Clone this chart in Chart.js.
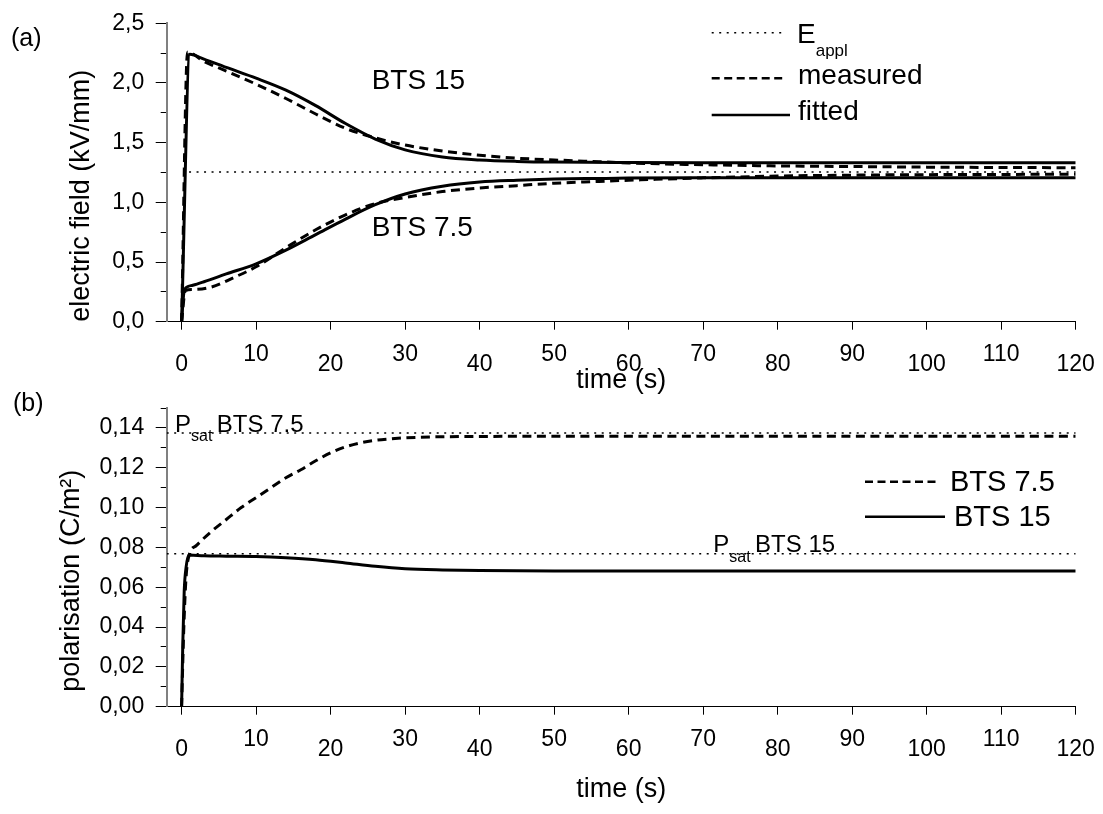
<!DOCTYPE html>
<html>
<head>
<meta charset="utf-8">
<script src="https://cdn.jsdelivr.net/npm/chart.js@4.4.1/dist/chart.umd.min.js"></script>
<style>
  html, body { margin: 0; padding: 0; background: #fff; }
  #fig { position: relative; width: 1103px; height: 814px; overflow: hidden;
         font-family: "Liberation Sans", Arial, sans-serif; color: #000; }
  #fig canvas { position: absolute; left: 0; }
  #c-top { top: 0; }
  #c-bot { top: 390px; }
  #keys { position: absolute; left: 0; top: 0; }
  .lbl { position: absolute; line-height: 1; white-space: nowrap; }
</style>
</head>
<body>
<div id="fig">
  <canvas id="c-top" width="1103" height="400"></canvas>
  <canvas id="c-bot" width="1103" height="424"></canvas>
  <!-- legend key samples -->
  <svg id="keys" width="1103" height="814">
    <g stroke="#000" fill="none">
      <line x1="711.7" y1="32.7" x2="786.7" y2="32.7" stroke-width="1.5" stroke-dasharray="2 5.5"/>
      <line x1="711.7" y1="78.3" x2="786.7" y2="78.3" stroke-width="2.5" stroke-dasharray="8 4.5"/>
      <line x1="711.7" y1="115"  x2="790"   y2="115"  stroke-width="2.5"/>
      <line x1="865"   y1="481.7" x2="940"  y2="481.7" stroke-width="2.5" stroke-dasharray="8 4.5"/>
      <line x1="865"   y1="516.7" x2="945"  y2="516.7" stroke-width="2.5"/>
    </g>
  </svg>
</div>

<script>
/* ── data ─────────────────────────────────────────────────── */
const FONT = '"Liberation Sans", Arial, sans-serif';

// axis ticks
const timeTicks  = [0, 10, 20, 30, 40, 50, 60, 70, 80, 90, 100, 110, 120];
const fieldTicks = [0, 0.5, 1.0, 1.5, 2.0, 2.5];
const fieldMinor = [0.25, 0.75, 1.25, 1.75, 2.25];
const polTicks   = [0, 0.02, 0.04, 0.06, 0.08, 0.10, 0.12, 0.14];
const polMinor   = [0.01, 0.03, 0.05, 0.07, 0.09, 0.11, 0.13, 0.15];

// (a) electric field (kV/mm) vs time (s)
const tAppl  = [1, 120];
const eAppl  = [1.255, 1.255];

const tMeas15 = [0, 0.8, 3, 6, 10, 14, 18, 22, 26, 30, 35, 40, 45, 50, 56, 60, 70, 80, 90, 100, 110, 120];
const eMeas15 = [0, 2.26, 2.18, 2.10, 1.99, 1.87, 1.74, 1.62, 1.54, 1.48, 1.43, 1.395, 1.37, 1.355, 1.34, 1.33, 1.315, 1.305, 1.30, 1.295, 1.292, 1.29];

const tFit15 = [0, 1.1, 3, 6, 10, 14, 18, 22, 26, 30, 35, 40, 45, 50, 60, 70, 80, 90, 100, 110, 120];
const eFit15 = [0, 2.24, 2.20, 2.13, 2.04, 1.94, 1.81, 1.66, 1.53, 1.44, 1.38, 1.355, 1.343, 1.337, 1.333, 1.332, 1.332, 1.332, 1.332, 1.332, 1.332];

const tMeas75 = [0, 0.5, 1.5, 4, 7, 10, 14, 18, 22, 26, 30, 35, 40, 45, 50, 56, 60, 70, 80, 90, 100, 110, 120];
const eMeas75 = [0, 0.26, 0.27, 0.29, 0.37, 0.46, 0.62, 0.77, 0.895, 0.99, 1.04, 1.09, 1.12, 1.14, 1.16, 1.175, 1.185, 1.205, 1.22, 1.228, 1.232, 1.234, 1.235];

const tFit75 = [0, 0.3, 0.7, 1.5, 3, 6, 10, 14, 18, 22, 26, 30, 35, 40, 45, 50, 56, 60, 70, 80, 90, 100, 110, 120];
const eFit75 = [0, 0.24, 0.29, 0.305, 0.335, 0.40, 0.485, 0.60, 0.73, 0.86, 0.98, 1.07, 1.135, 1.17, 1.185, 1.195, 1.2, 1.203, 1.206, 1.207, 1.207, 1.207, 1.207, 1.207];

// (b) polarisation (C/m²) vs time (s)
const tSat   = [-2, 120];
const pSat75 = [0.1375, 0.1375];
const pSat15 = [0.0768, 0.0768];

const tPol75 = [0, 0.3, 0.6, 1, 2, 4, 6, 8, 10, 12, 14, 16, 18, 20, 22, 24, 26, 28, 30, 34, 40, 50, 60, 80, 100, 120];
const pol75  = [0, 0.04, 0.065, 0.076, 0.081, 0.088, 0.094, 0.100, 0.105, 0.110, 0.115, 0.119, 0.1235, 0.1275, 0.1305, 0.1325, 0.1338, 0.1345, 0.135, 0.1355, 0.1357, 0.1358, 0.1358, 0.1358, 0.1358, 0.1358];

const tPol15 = [0, 0.15, 0.35, 0.6, 1, 3, 6, 10, 14, 18, 22, 26, 30, 35, 40, 50, 60, 80, 100, 120];
const pol15  = [0, 0.03, 0.058, 0.07, 0.0762, 0.0758, 0.0756, 0.0754, 0.0748, 0.0738, 0.0722, 0.0705, 0.0693, 0.0687, 0.0684, 0.0682, 0.0682, 0.0682, 0.0682, 0.0682];

/* ── helpers ──────────────────────────────────────────────── */
const xy = (ts, vs) => ts.map((t, i) => ({ x: t, y: vs[i] }));

function line(data, style) {
  const base = { data, borderColor: '#000', pointRadius: 0, showLine: true, fill: false };
  if (style === 'solid')  return { ...base, borderWidth: 3, cubicInterpolationMode: 'monotone' };
  if (style === 'dashed') return { ...base, borderWidth: 3, borderDash: [9, 5.5], cubicInterpolationMode: 'monotone' };
  return { ...base, borderWidth: 1.5, borderDash: [2, 5.5] };   // dotted reference line
}

function timeAxis(height, titlePad) {
  return {
    type: 'linear', min: -2, max: 120,
    afterBuildTicks: s => { s.ticks = timeTicks.map(v => ({ value: v })); },
    afterFit: s => { s.height = height; },
    ticks: {
      autoSkip: false, maxRotation: 0, minRotation: 0, padding: 0, color: '#000',
      font: { family: FONT, size: 23, lineHeight: '10px' },
      // blank lines push the labels down; 10, 30, 50 ... sit higher than 0, 20, 40 ...
      callback: v => (v % 20 === 0 ? ['', '', '', String(v)] : ['', '', String(v)]),
    },
    grid: { drawOnChartArea: false, tickLength: 8, tickColor: '#000', tickWidth: 1 },
    border: { color: '#000', width: 1 },
    title: { display: true, text: 'time (s)', color: '#000',
             font: { family: FONT, size: 27 }, padding: { top: 0, bottom: titlePad } },
  };
}

function valueAxis(max, ticks, digits, title, titlePad) {
  return {
    type: 'linear', position: 'left', min: 0, max, weight: 1,
    afterBuildTicks: s => { s.ticks = ticks.map(v => ({ value: v })); },
    afterFit: s => { s.width = 166.7; },
    ticks: { padding: 0, color: '#000', font: { family: FONT, size: 23 },
             callback: v => v.toFixed(digits).replace('.', ',') + '\u2002' },
    grid: { drawOnChartArea: false, tickLength: 11, tickColor: '#000', tickWidth: 1 },
    border: { color: '#808080', width: 2 },
    title: { display: true, text: title, align: 'start', color: '#000',
             font: { family: FONT, size: 27 }, padding: { top: titlePad, bottom: 0 } },
  };
}

// zero-width axis next to the plot that only draws the short minor ticks
function minorAxis(max, ticks) {
  return {
    type: 'linear', position: 'left', min: 0, max, weight: 0,
    afterBuildTicks: s => { s.ticks = ticks.map(v => ({ value: v })); },
    afterFit: s => { s.width = 0; },
    ticks: { display: false },
    grid: { drawOnChartArea: false, tickLength: 6, tickColor: '#000', tickWidth: 1 },
    border: { display: false },
  };
}

const common = {
  responsive: false, animation: false, devicePixelRatio: 1, events: [],
  plugins: { legend: { display: false }, tooltip: { enabled: false } },
};

/* ── (a) electric field ───────────────────────────────────── */
new Chart(document.getElementById('c-top'), {
  type: 'scatter',
  data: {
    datasets: [
      line(xy(tAppl, eAppl), 'dotted'),
      line(xy(tMeas15, eMeas15), 'dashed'),
      line(xy(tMeas75, eMeas75), 'dashed'),
      line(xy(tFit15, eFit15), 'solid'),
      line(xy(tFit75, eFit75), 'solid'),
    ],
  },
  options: {
    ...common,
    layout: { padding: { left: 0, right: 27.3, top: 23.3, bottom: 0 } },
    scales: {
      x: timeAxis(78.3, 2.8),
      y: valueAxis(2.5, fieldTicks, 1, 'electric field (kV/mm)', 65.5),
      yMinor: minorAxis(2.5, fieldMinor),
    },
  },
});

/* ── (b) polarisation ─────────────────────────────────────── */
new Chart(document.getElementById('c-bot'), {
  type: 'scatter',
  data: {
    datasets: [
      line(xy(tSat, pSat75), 'dotted'),
      line(xy(tSat, pSat15), 'dotted'),
      line(xy(tPol75, pol75), 'dashed'),
      line(xy(tPol15, pol15), 'solid'),
    ],
  },
  options: {
    ...common,
    layout: { padding: { left: 0, right: 27.3, top: 18, bottom: 0 } },
    scales: {
      x: timeAxis(107.3, 7.8),
      y: valueAxis(0.15, polTicks, 2, '  polarisation (C/m\u00B2)', 55.5),
      yMinor: minorAxis(0.15, polMinor),
    },
  },
});

/* ── text labels (legends, annotations, panel letters) ────── */
const sub = (txt, size, drop) =>
  `<span style="font-size:${size}px;position:relative;top:${drop}px">${txt}</span>`;

const LABELS = [
  { x: 11,    base: 46,    size: 25, html: '(a)' },
  { x: 13,    base: 411,   size: 25, html: '(b)' },
  { x: 797,   base: 43.3,  size: 28, html: 'E' + sub('appl', 17, 13.4) },
  { x: 798,   base: 85,    size: 28, html: 'measured' },
  { x: 798,   base: 120.7, size: 28, html: 'fitted' },
  { x: 371.7, base: 90,    size: 28, html: 'BTS 15' },
  { x: 371.7, base: 236.7, size: 28, html: 'BTS 7.5' },
  { x: 175,   base: 432.7, size: 24, html: 'P' + sub('sat&nbsp;', 16, 9) + 'BTS 7.5' },
  { x: 713.3, base: 552.7, size: 24, html: 'P' + sub('sat&nbsp;', 16, 10) + 'BTS 15' },
  { x: 950,   base: 491.7, size: 29, html: 'BTS 7.5' },
  { x: 954,   base: 526.7, size: 29, html: 'BTS 15' },
];

const fig = document.getElementById('fig');
LABELS.forEach(l => {
  const el = document.createElement('div');
  el.className = 'lbl';
  el.style.left = l.x + 'px';
  el.style.top = (l.base - 0.8465 * l.size) + 'px';
  el.style.fontSize = l.size + 'px';
  el.innerHTML = l.html;
  fig.appendChild(el);
});
</script>
</body>
</html>
